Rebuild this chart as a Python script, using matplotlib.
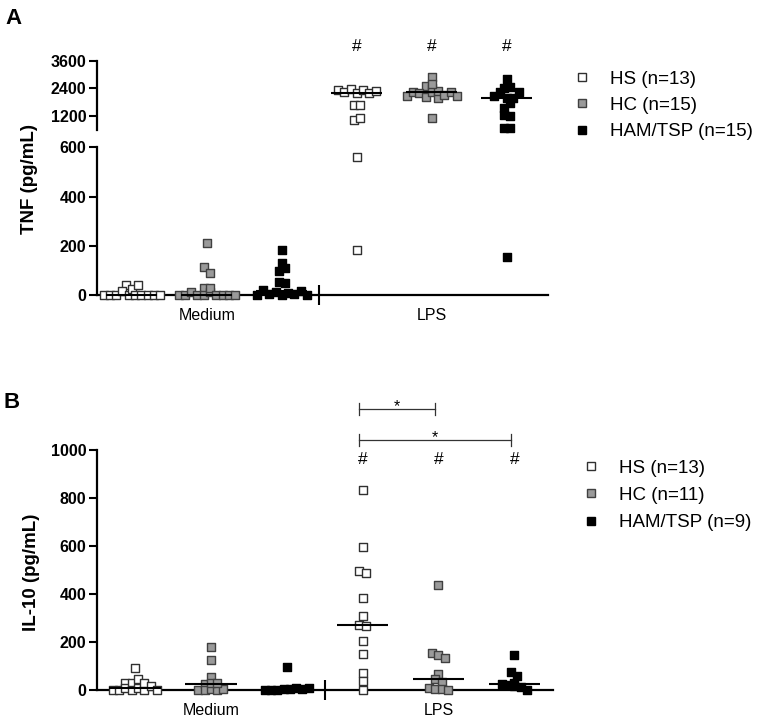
import numpy as np
import matplotlib
matplotlib.use('Agg')
import matplotlib.pyplot as plt
from matplotlib.lines import Line2D
import matplotlib.transforms as mtransforms

plt.rcParams['font.family'] = ['Liberation Sans', 'DejaVu Sans']

# ---------------- data ----------------
conditions = ['Medium', 'LPS']
groups = ['HS', 'HC', 'HAM/TSP']

tnf_medium_hs = [0, 0, 41, 0, 15, 0, 25, 0, 0, 40, 0, 0, 0]
tnf_medium_hc = [0, 0, 27, 115, 13, 0, 212, 0, 91, 13, 27, 0, 0, 0, 0]
tnf_medium_ham = [0, 20, 5, 128, 12, 182, 54, 2, 98, 47, 8, 108, 3, 18, 0]
tnf_lps_hs = [2326, 2240, 2370, 2209, 2310, 2215, 2283, 1660, 1690, 1025, 1099, 559, 183]
tnf_lps_hc = [2066, 2226, 2513, 2183, 2030, 2903, 2226, 2400, 1992, 2280, 2573, 2100,
              2226, 2066, 1099]
tnf_lps_ham = [2066, 2252, 1992, 2400, 1532, 2790, 1992, 2252, 1775, 2470, 1242, 1199,
               691, 691, 156]

il10_medium_hs = [0, 30, 0, 8, 28, 0, 90, 10, 0, 44, 30, 17, 0]
il10_medium_hc = [0, 27, 2, 178, 3, 53, 1, 125, 28, 4, 31]
il10_medium_ham = [0, 2, 1, 5, 94, 5, 8, 3, 10]
il10_lps_hs = [833, 597, 497, 489, 382, 310, 271, 267, 205, 149, 69, 39, 0]
il10_lps_hc = [437, 153, 147, 135, 67, 46, 35, 8, 5, 4, 2]
il10_lps_ham = [146, 74, 58, 30, 25, 21, 15, 13, 1]

tnf_legend = ['HS (n=13)', 'HC (n=15)', 'HAM/TSP (n=15)']
il10_legend = ['HS (n=13)', 'HC (n=11)', 'HAM/TSP (n=9)']

tnf_low_ticks = [0, 200, 400, 600]
tnf_up_ticks = [1200, 2400, 3600]
il10_ticks = [0, 200, 400, 600, 800, 1000]

# ---------------- style ----------------
face = ['white', '#9a9a9a', 'black']
edge = ['#303030', '#404040', 'black']
MS = 5.6          # marker side in points
W, H = 758, 723

fig = plt.figure(figsize=(W / 100, H / 100), dpi=100)


def rect(left, top, right, bottom):
    return [left / W, 1 - bottom / H, (right - left) / W, (bottom - top) / H]


ax_a_low = fig.add_axes(rect(96.7, 147.3, 548, 295))
ax_a_up = fig.add_axes(rect(96.7, 60.7, 548, 129.8))
ax_b = fig.add_axes(rect(97, 450, 553, 690))

for ax in (ax_a_low, ax_a_up):
    ax.set_xlim(-0.47, 5.55)
ax_b.set_xlim(-0.5, 5.51)
ax_a_low.set_ylim(0, 600)
ax_a_up.set_ylim(600, 3600)
ax_b.set_ylim(0, 1000)

for ax in (ax_a_low, ax_a_up, ax_b):
    ax.set_facecolor('none')
    for s in ('top', 'right'):
        ax.spines[s].set_visible(False)
    for s in ('left', 'bottom'):
        ax.spines[s].set_linewidth(1.6)
    ax.tick_params(axis='y', length=6, width=1.5, pad=1.5)

ax_a_up.spines['bottom'].set_visible(False)
ax_a_up.set_xticks([])


def set_yticks(ax, ticks):
    ax.set_yticks(ticks)
    ax.set_yticklabels([str(t) for t in ticks], fontweight='bold', fontsize=11.5)


set_yticks(ax_a_low, tnf_low_ticks)
set_yticks(ax_a_up, tnf_up_ticks)
set_yticks(ax_b, il10_ticks)

for ax in (ax_a_low, ax_b):
    ax.set_xticks([2.5])
    ax.set_xticklabels([''])
    ax.tick_params(axis='x', which='major', direction='inout', length=14.5, width=1.5)
    ax.set_xticks([1, 4], minor=True)
    ax.set_xticklabels(conditions, minor=True, fontsize=11.5)
    ax.tick_params(axis='x', which='minor', length=0, pad=9.5)

STEP_PX = 6.3
BIN_PX = 6.0


def swarm_offsets(ypx):
    """Group points whose pixel heights lie within BIN_PX of a cluster start,
    then spread each cluster symmetrically."""
    n = len(ypx)
    order = np.argsort(ypx, kind='stable')
    clusters = []
    cur = []
    start = None
    for i in order:
        if start is None or ypx[i] - start >= BIN_PX:
            if cur:
                clusters.append(cur)
            cur = [i]
            start = ypx[i]
        else:
            cur.append(i)
    if cur:
        clusters.append(cur)
    offs = np.zeros(n)
    for cl in clusters:
        cl = sorted(cl)          # keep data order inside a row
        m = len(cl)
        for k, i in enumerate(cl):
            offs[i] = (k - (m - 1) / 2) * STEP_PX
    return offs


def draw_group(pick_ax, ref_ax, xc, values, g):
    values = np.asarray(values, dtype=float)
    axs = [pick_ax(v) for v in values]
    ypx = np.array([a.transData.transform((xc, v))[1] for a, v in zip(axs, values)])
    offs = swarm_offsets(ypx)
    unit_px = ref_ax.transData.transform((1, 0))[0] - ref_ax.transData.transform((0, 0))[0]
    xs = xc + offs / unit_px
    for a in (ax_a_low, ax_a_up, ax_b):
        m = np.array([aa is a for aa in axs])
        if m.any():
            a.scatter(xs[m], values[m], marker='s', s=MS ** 2, facecolor=face[g],
                      edgecolor=edge[g], linewidths=1.0, clip_on=False, zorder=3)
    med = np.median(values)
    ma = pick_ax(med)
    ma.plot([xc - 0.34, xc + 0.34], [med, med], color='black', lw=1.5,
            solid_capstyle='butt', clip_on=False, zorder=4)


tnf_data = [[tnf_medium_hs, tnf_medium_hc, tnf_medium_ham],
            [tnf_lps_hs, tnf_lps_hc, tnf_lps_ham]]
il10_data = [[il10_medium_hs, il10_medium_hc, il10_medium_ham],
             [il10_lps_hs, il10_lps_hc, il10_lps_ham]]


def pick_a(v):
    return ax_a_up if v >= 600 else ax_a_low


for c in range(2):
    for g in range(3):
        x = c * 3 + g
        draw_group(pick_a, ax_a_low, x, tnf_data[c][g], g)
        draw_group(lambda v: ax_b, ax_b, x, il10_data[c][g], g)

# significance marks
tr_up = mtransforms.blended_transform_factory(ax_a_up.transData, ax_a_up.transAxes)
for g in range(3):
    ax_a_up.text(3 + g, 1.203, '#', transform=tr_up, ha='center', va='center',
                 fontsize=12.5, clip_on=False)

tr_b = mtransforms.blended_transform_factory(ax_b.transData, ax_b.transAxes)
for g in range(3):
    ax_b.text(3 + g, 0.961, '#', transform=tr_b, ha='center', va='center',
              fontsize=12.5, clip_on=False)

brackets = [(3, 4, 1.171), (3, 5, 1.042)]
for x0, x1, yb in brackets:
    x0b, x1b = x0 - 0.05, x1 - 0.05
    ax_b.plot([x0b, x1b], [yb, yb], color='#333333', lw=0.9, transform=tr_b, clip_on=False)
    for xe in (x0b, x1b):
        ax_b.plot([xe, xe], [yb - 0.026, yb + 0.026], color='#333333', lw=0.9,
                  transform=tr_b, clip_on=False)
    ax_b.text((x0b + x1b) / 2, yb - 0.01, '*', transform=tr_b, ha='center',
              va='baseline', fontsize=11.5, clip_on=False)

# axis labels
fig.text(30 / W, 1 - 179 / H, 'TNF (pg/mL)', rotation=90, ha='center', va='center',
         fontsize=13.5, fontweight='bold')
fig.text(31 / W, 1 - 572 / H, 'IL-10 (pg/mL)', rotation=90, ha='center', va='center',
         fontsize=13.5, fontweight='bold')

# panel letters
fig.text(13 / W, 1 - 18 / H, 'A', ha='center', va='center', fontsize=16, fontweight='bold')
fig.text(12 / W, 1 - 402 / H, 'B', ha='center', va='center', fontsize=16, fontweight='bold')


def make_legend(labels, left_px, top_px, spacing):
    handles = [Line2D([], [], marker='s', linestyle='None', markersize=5.2,
                      markerfacecolor=face[g], markeredgecolor=edge[g],
                      markeredgewidth=1.0) for g in range(3)]
    fig.legend(handles, labels, loc='upper left',
               bbox_to_anchor=(left_px / W, 1 - top_px / H),
               bbox_transform=fig.transFigure, frameon=False, fontsize=13.5,
               handlelength=1.0, handletextpad=1.0, labelspacing=spacing,
               borderpad=0, borderaxespad=0)


make_legend(tnf_legend, 572.6, 70.5, 0.49)
make_legend(il10_legend, 581.6, 459.5, 0.54)

fig.savefig('out.png', dpi=100)
